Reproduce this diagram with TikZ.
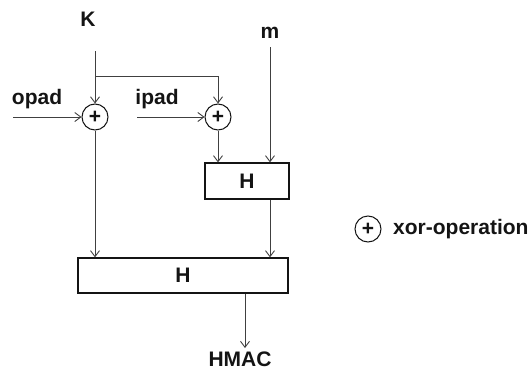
\documentclass[tikz,border=0pt]{standalone}
\usepackage{fontspec}
\setmainfont{Liberation Sans}
\usetikzlibrary{arrows.meta,positioning,calc}
\definecolor{HmLine}{RGB}{64,64,64}
\definecolor{HmInk}{RGB}{20,20,20}
\tikzset{
  hm/box/.style={
    draw=HmInk,
    line width=1.3pt,
    fill=white,
    align=center,
    text=HmInk,
    inner sep=0pt,
    font=\fontsize{21}{24}\selectfont\bfseries
  },
  hm/xor/.style={
    circle,
    draw=HmInk,
    line width=1pt,
    fill=white,
    inner sep=0pt,
    minimum size=26pt,
    text=HmInk,
    font=\fontsize{21}{21}\selectfont\bfseries
  },
  hm/arrow/.style={-{Straight Barb[length=6pt,width=9pt]}, line width=0.9pt, draw=HmLine},
  hm/line/.style={line width=0.9pt, draw=HmLine},
  hm/label/.style={font=\fontsize{21}{24}\selectfont\bfseries, text=HmInk, inner sep=0pt}
}

\begin{document}
\begin{tikzpicture}[x=1pt,y=-1pt]
  \useasboundingbox (0,0) rectangle (532,372);
  % inputs
  \node[hm/label] (key) at (88,19) {K};
  \node[hm/label] (msg) at (270,33) {m};
  \node[hm/label] (opad) at (37,99) {opad};
  \node[hm/label] (ipad) at (157,99) {ipad};
  \coordinate (keyin) at (95,51);
  \coordinate (split) at (95,76);
  \coordinate (msgin) at (270,47);
  \coordinate (opadin) at (13,117);
  \coordinate (ipadin) at (137,117);
  % xor and hash blocks
  \node[hm/xor] (xoro) at (95,117) {+};
  \node[hm/xor] (xori) at (218,117) {+};
  \node[hm/box,minimum width=84pt,minimum height=36pt] (hin) at (247,181) {H};
  \node[hm/box,minimum width=210pt,minimum height=35pt] (hout) at (183,275.5) {H};
  \node[hm/label] (hmac) at (240,359) {HMAC};
  \coordinate (hmacend) at (245,348);
  % legend
  \node[hm/xor] (legxor) at (368,229) {+};
  \node[hm/label,anchor=west] (legtext) at (393,229) {xor-operation};
  % connectors
  \draw[hm/arrow] (keyin) -- (xoro.north);
  \draw[hm/arrow] (split) -| (xori.north);
  \draw[hm/arrow] (opadin) -- (xoro.west);
  \draw[hm/arrow] (ipadin) -- (xori.west);
  \draw[hm/arrow] (xori.south) -- (xori.south |- hin.north);
  \draw[hm/arrow] (msgin) -- (msgin |- hin.north);
  \draw[hm/arrow] (xoro.south) -- (xoro.south |- hout.north);
  \draw[hm/arrow] (msgin |- hin.south) -- (msgin |- hout.north);
  \draw[hm/arrow] (hmacend |- hout.south) -- (hmacend);
\end{tikzpicture}
\end{document}
